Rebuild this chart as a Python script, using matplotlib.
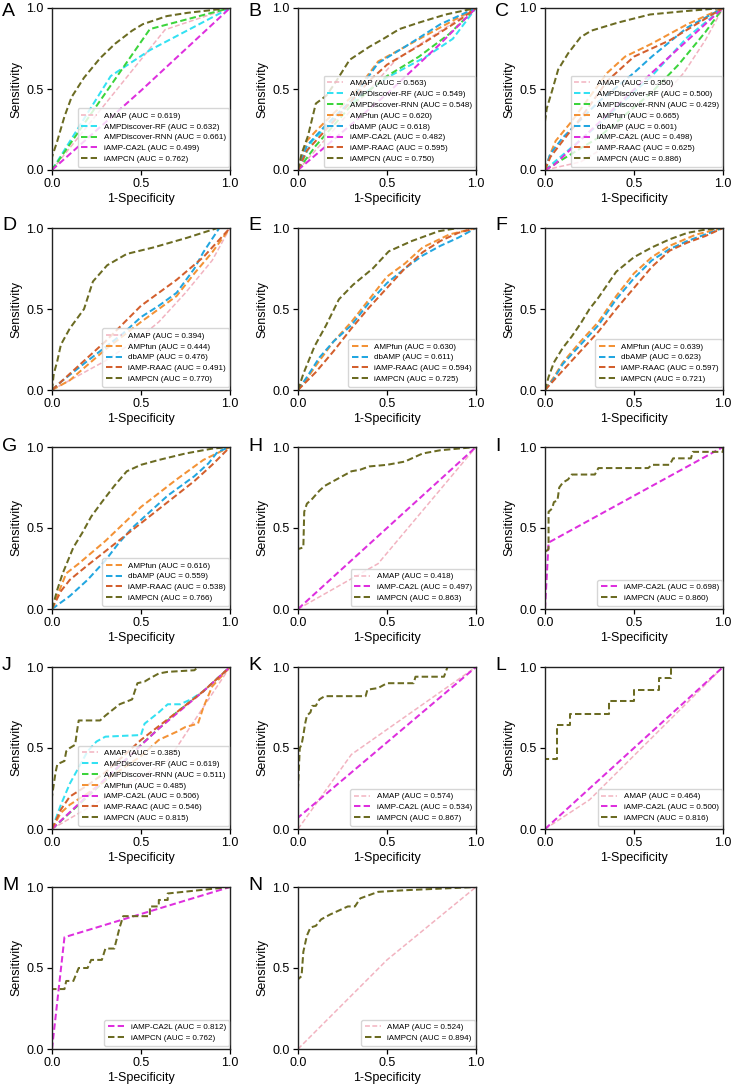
import matplotlib
matplotlib.use("Agg")
import matplotlib.pyplot as plt

plt.rcParams['font.family'] = ['Liberation Sans', 'DejaVu Sans']

# ---------------- colours per method ----------------
COLORS = {
    "AMAP": "#F2B3C0",
    "AMPDiscover-RF": "#33E1F2",
    "AMPDiscover-RNN": "#3CD43C",
    "AMPfun": "#F39236",
    "dbAMP": "#22A6E0",
    "iAMP-CA2L": "#DE2FDE",
    "iAMP-RAAC": "#D35F2D",
    "iAMPCN": "#6B6B22",
}

# ---------------- data: (method, AUC, fpr, tpr) ----------------
PANEL_A = [
    ("AMAP", 0.619, [0, 0.635, 1], [0, 0.866, 1]),
    ("AMPDiscover-RF", 0.632, [0, 0.33, 0.55, 1], [0, 0.58, 0.74, 1]),
    ("AMPDiscover-RNN", 0.661, [0, 0.55, 1], [0, 0.87, 1]),
    ("iAMP-CA2L", 0.499, [0, 0.5, 1], [0, 0.49, 1]),
    ("iAMPCN", 0.762,
     [0, 0, 0.03, 0.07, 0.11, 0.18, 0.27, 0.355, 0.45, 0.51, 0.645, 0.76, 1],
     [0, 0.08, 0.18, 0.33, 0.45, 0.57, 0.69, 0.78, 0.86, 0.90, 0.95, 0.97, 1]),
]

PANEL_B = [
    ("AMAP", 0.563, [0, 0.55, 1], [0, 0.68, 1]),
    ("AMPDiscover-RF", 0.549, [0, 0.08, 0.3, 0.5, 0.72, 0.87, 1], [0, 0.18, 0.42, 0.57, 0.70, 0.81, 1]),
    ("AMPDiscover-RNN", 0.548, [0, 0.1, 0.3, 0.5, 0.68, 0.85, 1], [0, 0.15, 0.40, 0.58, 0.70, 0.84, 1]),
    ("AMPfun", 0.620, [0, 0.05, 0.1, 0.2, 0.3, 0.45, 0.6, 0.8, 1], [0, 0.18, 0.24, 0.35, 0.45, 0.67, 0.76, 0.88, 1]),
    ("dbAMP", 0.618, [0, 0.05, 0.15, 0.3, 0.45, 0.6, 0.8, 1], [0, 0.15, 0.27, 0.43, 0.66, 0.76, 0.90, 1]),
    ("iAMP-CA2L", 0.482, [0, 0.5, 0.8, 1], [0, 0.47, 0.78, 1]),
    ("iAMP-RAAC", 0.595, [0, 0.05, 0.2, 0.4, 0.5, 0.7, 0.9, 1], [0, 0.12, 0.30, 0.55, 0.65, 0.78, 0.92, 1]),
    ("iAMPCN", 0.750,
     [0, 0.02, 0.056, 0.10, 0.16, 0.21, 0.29, 0.40, 0.48, 0.57, 0.68, 0.83, 1],
     [0, 0.10, 0.21, 0.41, 0.46, 0.54, 0.68, 0.76, 0.81, 0.87, 0.91, 0.96, 1]),
]

PANEL_C = [
    ("AMAP", 0.350, [0, 0.2, 0.5, 0.7, 0.78, 0.9, 1], [0, 0.05, 0.25, 0.50, 0.60, 0.80, 1]),
    ("AMPDiscover-RF", 0.500, [0, 0.3, 0.6, 0.8, 1], [0, 0.28, 0.58, 0.82, 1]),
    ("AMPDiscover-RNN", 0.429, [0, 0.3, 0.6, 0.75, 0.9, 1], [0, 0.20, 0.48, 0.65, 0.85, 1]),
    ("AMPfun", 0.665, [0, 0.03, 0.06, 0.15, 0.25, 0.35, 0.45, 0.6, 0.8, 1], [0, 0.10, 0.18, 0.30, 0.45, 0.60, 0.70, 0.78, 0.90, 1]),
    ("dbAMP", 0.601, [0, 0.03, 0.1, 0.3, 0.5, 0.6, 0.8, 1], [0, 0.10, 0.20, 0.42, 0.60, 0.70, 0.88, 1]),
    ("iAMP-CA2L", 0.498, [0, 0.05, 0.6, 0.8, 1], [0, 0.03, 0.60, 0.80, 1]),
    ("iAMP-RAAC", 0.625, [0, 0.03, 0.1, 0.2, 0.35, 0.5, 0.7, 0.85, 1], [0, 0.08, 0.18, 0.32, 0.55, 0.70, 0.80, 0.90, 1]),
    ("iAMPCN", 0.886,
     [0, 0, 0.01, 0.04, 0.074, 0.13, 0.2, 0.26, 0.41, 0.59, 0.78, 1],
     [0, 0.30, 0.38, 0.49, 0.62, 0.72, 0.82, 0.86, 0.91, 0.96, 0.98, 1]),
]

PANEL_D = [
    ("AMAP", 0.394, [0, 0.3, 0.5, 0.6, 0.75, 0.9, 1], [0, 0.18, 0.33, 0.42, 0.60, 0.80, 1]),
    ("AMPfun", 0.444, [0, 0.1, 0.3, 0.5, 0.6, 0.7, 0.8, 0.9, 1], [0, 0.06, 0.25, 0.42, 0.50, 0.58, 0.72, 0.85, 1]),
    ("dbAMP", 0.476, [0, 0.05, 0.2, 0.4, 0.5, 0.6, 0.7, 0.8, 0.85, 0.94, 1], [0, 0.05, 0.18, 0.35, 0.45, 0.52, 0.60, 0.75, 0.85, 1.0, 1]),
    ("iAMP-RAAC", 0.491, [0, 0.3, 0.5, 0.7, 0.85, 1], [0, 0.30, 0.52, 0.68, 0.82, 1]),
    ("iAMPCN", 0.770,
     [0, 0.01, 0.03, 0.05, 0.10, 0.18, 0.23, 0.31, 0.42, 0.57, 0.76, 0.93, 1],
     [0, 0.10, 0.18, 0.28, 0.38, 0.50, 0.67, 0.77, 0.84, 0.88, 0.94, 1.0, 1]),
]

PANEL_E = [
    ("AMPfun", 0.630, [0, 0.05, 0.1, 0.2, 0.3, 0.4, 0.5, 0.6, 0.7, 0.85, 1], [0, 0.07, 0.15, 0.30, 0.42, 0.56, 0.70, 0.78, 0.88, 0.96, 1]),
    ("dbAMP", 0.611, [0, 0.05, 0.12, 0.2, 0.3, 0.4, 0.5, 0.6, 0.7, 0.8, 0.9, 1], [0, 0.08, 0.20, 0.30, 0.40, 0.54, 0.66, 0.75, 0.83, 0.89, 0.94, 1]),
    ("iAMP-RAAC", 0.594, [0, 0.1, 0.2, 0.3, 0.4, 0.5, 0.6, 0.7, 0.8, 0.9, 1], [0, 0.11, 0.24, 0.38, 0.51, 0.63, 0.75, 0.85, 0.92, 0.97, 1]),
    ("iAMPCN", 0.725,
     [0, 0.03, 0.093, 0.158, 0.23, 0.31, 0.42, 0.51, 0.64, 0.79, 0.9, 1],
     [0, 0.10, 0.27, 0.40, 0.56, 0.65, 0.75, 0.856, 0.92, 0.98, 1.0, 1]),
]

PANEL_F = [
    ("AMPfun", 0.639, [0, 0.05, 0.1, 0.2, 0.3, 0.4, 0.5, 0.6, 0.7, 0.85, 1], [0, 0.08, 0.17, 0.30, 0.42, 0.58, 0.72, 0.82, 0.89, 0.96, 1]),
    ("dbAMP", 0.623, [0, 0.05, 0.1, 0.2, 0.3, 0.4, 0.5, 0.6, 0.7, 0.8, 0.9, 1], [0, 0.07, 0.16, 0.28, 0.40, 0.56, 0.69, 0.80, 0.87, 0.92, 0.96, 1]),
    ("iAMP-RAAC", 0.597, [0, 0.1, 0.2, 0.3, 0.4, 0.5, 0.6, 0.7, 0.8, 0.9, 1], [0, 0.12, 0.24, 0.36, 0.50, 0.63, 0.76, 0.86, 0.91, 0.95, 1]),
    ("iAMPCN", 0.721,
     [0, 0.02, 0.05, 0.1, 0.15, 0.2, 0.25, 0.3, 0.35, 0.4, 0.5, 0.6, 0.7, 0.8, 0.9, 1],
     [0, 0.08, 0.17, 0.26, 0.33, 0.41, 0.50, 0.57, 0.65, 0.73, 0.82, 0.88, 0.93, 0.97, 0.99, 1]),
]

PANEL_G = [
    ("AMPfun", 0.616, [0, 0.08, 0.15, 0.3, 0.5, 0.7, 0.85, 1], [0, 0.22, 0.28, 0.42, 0.63, 0.80, 0.92, 1]),
    ("dbAMP", 0.559, [0, 0.05, 0.1, 0.2, 0.3, 0.37, 0.45, 0.55, 0.65, 0.8, 0.88, 0.93, 1], [0, 0.04, 0.08, 0.18, 0.30, 0.40, 0.50, 0.60, 0.70, 0.82, 0.90, 0.97, 1]),
    ("iAMP-RAAC", 0.538, [0, 0.05, 0.1, 0.2, 0.35, 0.5, 0.65, 0.8, 0.9, 1], [0, 0.11, 0.18, 0.27, 0.40, 0.53, 0.66, 0.79, 0.89, 1]),
    ("iAMPCN", 0.766,
     [0, 0.03, 0.06, 0.09, 0.12, 0.17, 0.22, 0.28, 0.35, 0.42, 0.5, 0.6, 0.75, 0.9, 1],
     [0, 0.12, 0.22, 0.30, 0.38, 0.47, 0.57, 0.66, 0.76, 0.85, 0.89, 0.92, 0.96, 0.99, 1]),
]

PANEL_H = [
    ("AMAP", 0.418, [0, 0.45, 1], [0, 0.28, 1]),
    ("iAMP-CA2L", 0.497, [0, 1], [0, 1]),
    ("iAMPCN", 0.863,
     [0, 0, 0.03, 0.035, 0.05, 0.08, 0.12, 0.15, 0.2, 0.25, 0.3, 0.35, 0.4, 0.5, 0.6, 0.7, 0.8, 0.9, 1],
     [0, 0.37, 0.38, 0.60, 0.65, 0.68, 0.73, 0.76, 0.79, 0.82, 0.85, 0.86, 0.88, 0.89, 0.91, 0.96, 0.98, 0.99, 1]),
]

PANEL_I = [
    ("iAMP-CA2L", 0.698, [0, 0.02, 1], [0, 0.41, 1]),
    ("iAMPCN", 0.860,
     [0, 0, 0.02, 0.02, 0.04, 0.05, 0.07, 0.08, 0.10, 0.13, 0.15, 0.28, 0.30, 0.58, 0.60, 0.70, 0.72, 0.82, 0.83, 1, 1],
     [0, 0.35, 0.37, 0.60, 0.62, 0.66, 0.67, 0.75, 0.78, 0.80, 0.83, 0.83, 0.87, 0.87, 0.89, 0.89, 0.93, 0.93, 0.97, 0.97, 1]),
]

PANEL_J = [
    ("AMAP", 0.385, [0, 0.65, 1], [0, 0.42, 1]),
    ("AMPDiscover-RF", 0.619,
     [0, 0.05, 0.1, 0.15, 0.2, 0.25, 0.3, 0.5, 0.52, 0.6, 0.65, 0.72, 0.78, 0.85, 0.9, 1],
     [0, 0.15, 0.28, 0.38, 0.48, 0.54, 0.57, 0.58, 0.65, 0.72, 0.77, 0.77, 0.80, 0.85, 0.90, 1]),
    ("AMPDiscover-RNN", 0.511, [0, 0.3, 0.5, 0.7, 0.85, 1], [0, 0.30, 0.52, 0.72, 0.85, 1]),
    ("AMPfun", 0.485,
     [0, 0.05, 0.1, 0.2, 0.3, 0.5, 0.6, 0.7, 0.75, 0.82, 0.85, 0.9, 1],
     [0, 0.10, 0.15, 0.22, 0.30, 0.45, 0.55, 0.60, 0.63, 0.65, 0.75, 0.88, 1]),
    ("iAMP-CA2L", 0.506, [0, 0.3, 0.6, 0.85, 1], [0, 0.31, 0.62, 0.85, 1]),
    ("iAMP-RAAC", 0.546, [0, 0.05, 0.1, 0.2, 0.3, 0.5, 0.7, 0.85, 1], [0, 0.12, 0.20, 0.27, 0.35, 0.55, 0.72, 0.85, 1]),
    ("iAMPCN", 0.815,
     [0, 0, 0.02, 0.03, 0.07, 0.08, 0.10, 0.13, 0.14, 0.15, 0.27, 0.30, 0.38, 0.45, 0.48, 0.52, 0.55, 0.6, 0.65, 0.8, 0.82, 1],
     [0, 0.20, 0.35, 0.40, 0.42, 0.48, 0.50, 0.52, 0.60, 0.67, 0.67, 0.70, 0.77, 0.80, 0.90, 0.91, 0.93, 0.96, 0.97, 0.98, 1.0, 1]),
]

PANEL_K = [
    ("AMAP", 0.574, [0, 0.3, 1], [0, 0.46, 1]),
    ("iAMP-CA2L", 0.534, [0, 0, 1], [0, 0.07, 1]),
    ("iAMPCN", 0.867,
     [0, 0, 0.01, 0.02, 0.03, 0.04, 0.05, 0.07, 0.08, 0.10, 0.12, 0.15, 0.38, 0.39, 0.45, 0.5, 0.65, 0.66, 0.82, 0.84, 1],
     [0, 0.25, 0.50, 0.52, 0.58, 0.65, 0.70, 0.72, 0.76, 0.76, 0.80, 0.82, 0.82, 0.86, 0.87, 0.90, 0.90, 0.94, 0.94, 1.0, 1]),
]

PANEL_L = [
    ("AMAP", 0.464, [0, 0.25, 1], [0, 0.18, 1]),
    ("iAMP-CA2L", 0.500, [0, 1], [0, 1]),
    ("iAMPCN", 0.816,
     [0, 0, 0.07, 0.07, 0.14, 0.14, 0.36, 0.36, 0.5, 0.5, 0.64, 0.64, 0.71, 0.71, 1],
     [0, 0.43, 0.43, 0.64, 0.64, 0.71, 0.71, 0.79, 0.79, 0.86, 0.86, 0.93, 0.93, 1.0, 1]),
]

PANEL_M = [
    ("iAMP-CA2L", 0.812, [0, 0.07, 1], [0, 0.69, 1]),
    ("iAMPCN", 0.762,
     [0, 0, 0.07, 0.08, 0.12, 0.15, 0.20, 0.22, 0.28, 0.30, 0.35, 0.38, 0.40, 0.55, 0.55, 0.60, 0.60, 0.65, 0.65, 1],
     [0, 0.37, 0.37, 0.42, 0.42, 0.50, 0.50, 0.55, 0.55, 0.62, 0.62, 0.75, 0.82, 0.82, 0.88, 0.88, 0.92, 0.92, 0.96, 1]),
]

PANEL_N = [
    ("AMAP", 0.524, [0, 0.5, 1], [0, 0.55, 1]),
    ("iAMPCN", 0.894,
     [0, 0, 0.02, 0.03, 0.05, 0.07, 0.10, 0.13, 0.18, 0.22, 0.28, 0.32, 0.35, 0.45, 0.6, 0.8, 1],
     [0, 0.43, 0.45, 0.60, 0.70, 0.75, 0.76, 0.80, 0.83, 0.85, 0.88, 0.88, 0.93, 0.97, 0.98, 0.99, 1]),
]

PANELS = [("A", PANEL_A), ("B", PANEL_B), ("C", PANEL_C),
          ("D", PANEL_D), ("E", PANEL_E), ("F", PANEL_F),
          ("G", PANEL_G), ("H", PANEL_H), ("I", PANEL_I),
          ("J", PANEL_J), ("K", PANEL_K), ("L", PANEL_L),
          ("M", PANEL_M), ("N", PANEL_N)]

TICKS = [0.0, 0.5, 1.0]
TICK_LABELS = ["0.0", "0.5", "1.0"]

# ---------------- layout (pixels) ----------------
W, H = 734, 1089
COL_LEFT = [52, 298, 545]
ROW_TOP = [8, 228, 447, 667, 887]
AX_W, AX_H = 178, 162
LETTER_TOP = [3, 217, 438, 657, 877]

fig = plt.figure(figsize=(W / 100, H / 100), dpi=100)

for idx, (letter, curves) in enumerate(PANELS):
    r, c = divmod(idx, 3)
    left = COL_LEFT[c] / W
    bottom = 1 - (ROW_TOP[r] + AX_H) / H
    ax = fig.add_axes([left, bottom, AX_W / W, AX_H / H])
    for name, auc, fpr, tpr in curves:
        lw = 1.1 if name == "AMAP" else 1.45
        ax.plot(fpr, tpr, linestyle="--", color=COLORS[name], lw=lw,
                dashes=(3.2, 1.6),
                label=f"{name} (AUC = {auc:.3f})")
    ax.set_xlim(0, 1)
    ax.set_ylim(0, 1)
    ax.set_xticks(TICKS)
    ax.set_xticklabels(TICK_LABELS)
    ax.set_yticks(TICKS)
    ax.set_yticklabels(TICK_LABELS)
    ax.tick_params(labelsize=9, length=3.5, width=0.9, pad=2.5)
    ax.set_xlabel("1-Specificity", fontsize=9, labelpad=2)
    ax.set_ylabel("Sensitivity", fontsize=9, labelpad=3)
    for s in ax.spines.values():
        s.set_linewidth(1.0)
        s.set_color("#222222")
    ax.legend(loc="lower right", bbox_to_anchor=(0.997, 0.02), borderaxespad=0,
              fontsize=5.8, labelspacing=0.4, handlelength=2.0, handletextpad=0.8,
              borderpad=0.45, framealpha=0.8)
    fig.text((COL_LEFT[c] - 50) / W, 1 - LETTER_TOP[r] / H, letter,
             fontsize=14, va="top", ha="left")

fig.savefig("out.png", dpi=100)
